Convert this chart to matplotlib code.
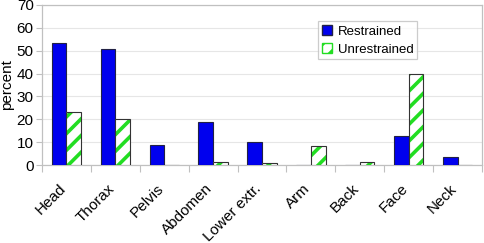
import numpy as np
import matplotlib.pyplot as plt
import matplotlib.transforms as mtransforms
from matplotlib.patches import Patch

categories = ["Head", "Thorax", "Pelvis", "Abdomen", "Lower extr.", "Arm", "Back", "Face", "Neck"]
restrained = [53.5, 50.7, 8.8, 18.9, 10.1, 0, 0, 12.9, 3.6]
unrestrained = [23.3, 20.0, 0, 1.1, 0.8, 8.4, 1.1, 39.8, 0]

plt.rcParams['font.family'] = ['Liberation Sans', 'DejaVu Sans']
plt.rcParams['hatch.linewidth'] = 2.6

green = "#22dd22"
grid_col = "#e6e6e6"
frame_col = "#c0c0c0"

fig = plt.figure(figsize=(4.84, 2.43), dpi=100)
ax = fig.add_axes([42 / 484, 78 / 243, 440 / 484, 160 / 243])

x = np.arange(len(categories))
w = 0.3

ax.bar(x - w / 2, restrained, w, color="#0000ee", edgecolor="#222244", linewidth=0.8, zorder=3)
# hatch drawn in green, outline drawn separately in dark grey
ax.bar(x + w / 2, unrestrained, w, color="white", edgecolor=green, hatch="//", linewidth=0, zorder=3)
ax.bar(x + w / 2, unrestrained, w, fill=False, edgecolor="#333333", linewidth=0.8, zorder=4)

ax.set_xlim(-0.5, len(categories) - 0.5)
ax.set_ylim(0, 70)
ax.set_yticks(range(0, 71, 10))
ax.set_xticks(np.arange(len(categories) + 1) - 0.5)
ax.set_xticklabels([])
ax.set_xticks(x, minor=True)
ax.set_xticklabels(categories, minor=True, rotation=45, ha="right", rotation_mode="anchor", fontsize=11)
ax.tick_params(axis="x", which="minor", length=0, pad=12)
ax.tick_params(axis="x", which="major", length=5, color=frame_col, direction="out")
ax.tick_params(axis="y", length=4, color=frame_col, labelsize=11, pad=2)

# nudge category labels to the left
shift = mtransforms.ScaledTranslation(-8 / 100, 0, fig.dpi_scale_trans)
for lbl in ax.get_xticklabels(minor=True):
    lbl.set_transform(lbl.get_transform() + shift)

ax.grid(axis="y", color=grid_col, linewidth=0.8, zorder=0)
ax.set_axisbelow(True)
for s in ax.spines.values():
    s.set_color(frame_col)
    s.set_linewidth(0.9)

ax.set_ylabel("percent", fontsize=11, labelpad=2)

handles = [
    Patch(facecolor="#0000ee", edgecolor="#222244", label="Restrained"),
    Patch(facecolor="white", edgecolor=green, hatch="//", label="Unrestrained"),
]
leg = ax.legend(handles=handles, loc="upper left", bbox_to_anchor=(0.627, 0.9), fontsize=9.5,
                frameon=True, fancybox=False, edgecolor=frame_col, handlelength=0.8,
                handleheight=0.8, handletextpad=0.4, borderpad=0.3, labelspacing=0.4,
                borderaxespad=0)
leg.get_frame().set_linewidth(0.9)

fig.savefig("out.png", dpi=100)
